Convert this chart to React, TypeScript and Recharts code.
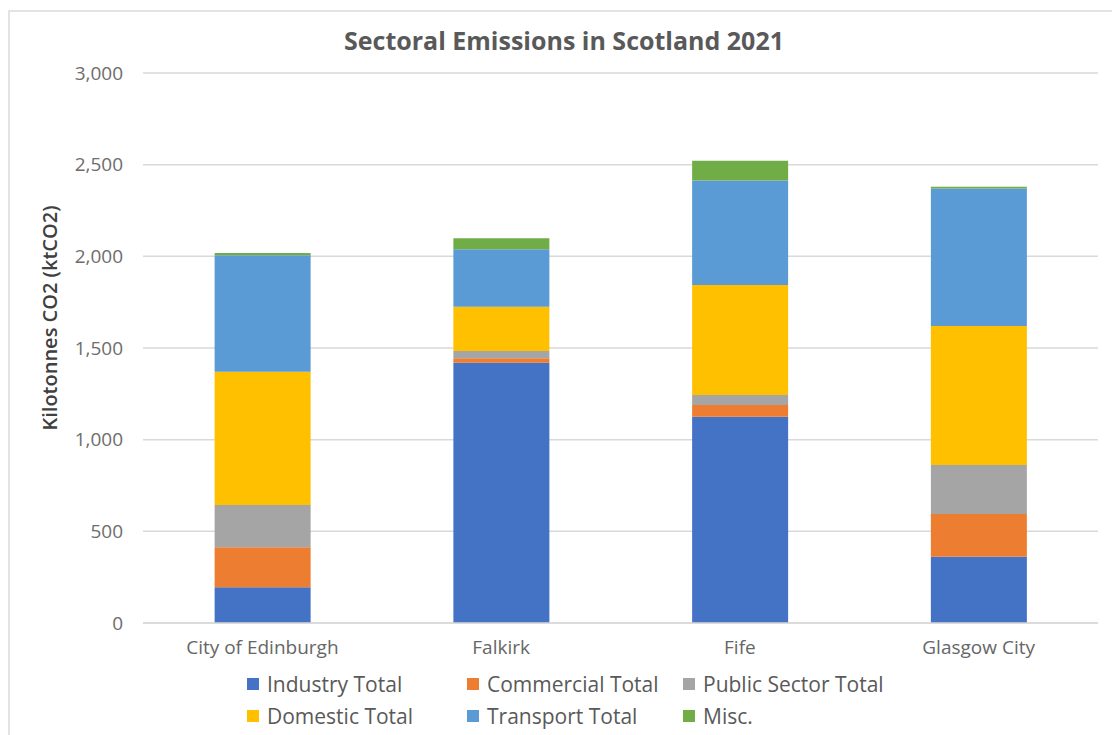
import React from "react";
import { BarChart, Bar, XAxis, YAxis, CartesianGrid, Label } from "recharts";

const categories = ["City of Edinburgh", "Falkirk", "Fife", "Glasgow City"];
const industry = [195, 1420, 1125, 362];
const commercial = [218, 24, 64, 233];
const publicSector = [231, 40, 55, 267];
const domestic = [727, 241, 600, 758];
const transport = [635, 313, 569, 750];
const misc = [12, 60, 109, 10];
const yTicks = [0, 500, 1000, 1500, 2000, 2500, 3000];

const series = [
  { key: "industry", name: "Industry Total", color: "#4472C4", values: industry },
  { key: "commercial", name: "Commercial Total", color: "#ED7D31", values: commercial },
  { key: "publicSector", name: "Public Sector Total", color: "#A5A5A5", values: publicSector },
  { key: "domestic", name: "Domestic Total", color: "#FFC000", values: domestic },
  { key: "transport", name: "Transport Total", color: "#5B9BD5", values: transport },
  { key: "misc", name: "Misc.", color: "#70AD47", values: misc },
];

const data = categories.map((c, i) => {
  const row: Record<string, any> = { name: c };
  series.forEach((s) => (row[s.key] = s.values[i]));
  return row;
});

const FONT = "'Open Sans', sans-serif";

function LegendBlock() {
  const colX = [247, 467, 683];
  const rowY = [684, 716];
  return (
    <>
      {series.map((s, i) => {
        const col = i % 3;
        const row = Math.floor(i / 3);
        return (
          <div
            key={s.key}
            style={{
              position: "absolute",
              left: colX[col],
              top: rowY[row] - 15,
              height: 30,
              display: "flex",
              alignItems: "center",
              fontFamily: FONT,
              fontSize: 21,
              color: "#595959",
              whiteSpace: "nowrap",
            }}
          >
            <span style={{ display: "inline-block", width: 12, height: 12, background: s.color, marginRight: 8 }} />
            {s.name}
          </div>
        );
      })}
    </>
  );
}

export default function App() {
  return (
    <div style={{ position: "absolute", left: 0, top: 0, width: 1112, height: 735, background: "#fff", overflow: "hidden" }}>
      <div
        style={{
          position: "absolute",
          left: 8,
          top: 10,
          width: 1112,
          height: 735,
          borderTop: "2px solid #e3e3e3",
          borderLeft: "2px solid #e3e3e3",
        }}
      />
      <div
        style={{
          position: "absolute",
          left: 0,
          width: 1128,
          top: 40 - 17,
          height: 34,
          lineHeight: "34px",
          textAlign: "center",
          fontFamily: FONT,
          fontWeight: 700,
          fontSize: 25,
          color: "#595959",
        }}
      >
        Sectoral Emissions in Scotland 2021
      </div>
      <div style={{ position: "absolute", left: 0, top: 0 }}>
        <BarChart
          width={1112}
          height={735}
          data={data}
          margin={{ top: 73, right: 14, left: 83, bottom: 82 }}
          barCategoryGap="30%"
        >
          <CartesianGrid vertical={false} stroke="#d9d9d9" strokeWidth={1.5} />
          <XAxis
            dataKey="name"
            height={30}
            axisLine={{ stroke: "#d9d9d9", strokeWidth: 1.5 }}
            tickLine={false}
            tick={{ fill: "#666666", fontSize: 19, fontFamily: FONT }}
            tickMargin={12}
          />
          <YAxis
            width={60}
            domain={[0, 3000]}
            ticks={yTicks}
            axisLine={false}
            tickLine={false}
            tickMargin={14}
            tickFormatter={(v: number) => v.toLocaleString("en-US")}
            tick={{ fill: "#6d6d6d", fontSize: 19, fontFamily: FONT }}
          >
            <Label
              content={(props: any) => {
                const vb = props.viewBox || {};
                const cx = 49;
                const cy = (vb.y ?? 73) + (vb.height ?? 550) / 2 - 30;
                return (
                  <text
                    x={cx}
                    y={cy}
                    transform={`rotate(-90 ${cx} ${cy})`}
                    textAnchor="middle"
                    dominantBaseline="central"
                    fill="#404040"
                    fontFamily={FONT}
                    fontWeight={600}
                    fontSize={20}
                  >
                    Kilotonnes CO2 (ktCO2)
                  </text>
                );
              }}
            />
          </YAxis>
          {series.map((s) => (
            <Bar key={s.key} dataKey={s.key} name={s.name} stackId="a" fill={s.color} isAnimationActive={false} />
          ))}
        </BarChart>
      </div>
      <LegendBlock />
    </div>
  );
}
